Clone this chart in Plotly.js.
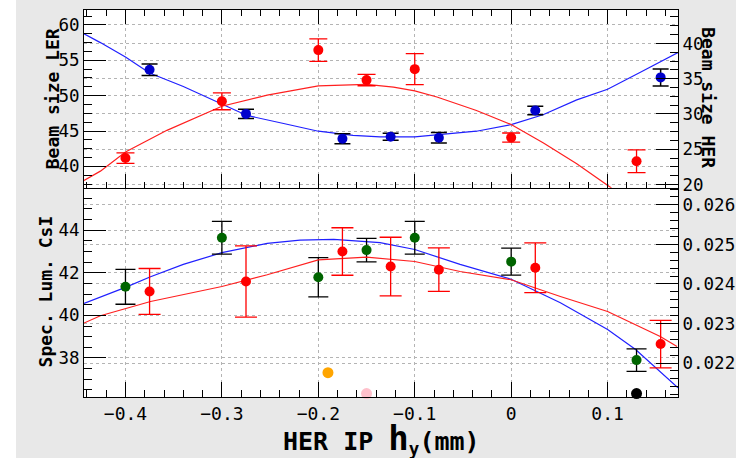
<!DOCTYPE html>
<html>
<head>
<meta charset="utf-8">
<script src="https://cdn.plot.ly/plotly-3.0.1.min.js"></script>
<style>
html,body{margin:0;padding:0;background:#ffffff;}
#plot{position:absolute;left:16px;top:0;width:720px;height:458px;}
</style>
</head>
<body>
<div id="plot"></div>
<script>
// ---- Top panel: beam sizes ----
const xLER = [-0.375, -0.275, -0.175, -0.125, -0.075, 0.025, 0.155];
const ler = [53.66, 47.42, 43.90, 44.18, 44.04, 47.90, 52.58];
const lerErr = [0.8, 0.66, 0.7, 0.5, 0.75, 0.6, 1.2];

const xHER = [-0.4, -0.3, -0.2, -0.15, -0.1, 0, 0.13];
const her = [23.75, 31.8, 39.05, 34.8, 36.35, 26.65, 23.3];
const herErr = [0.75, 1.2, 1.6, 0.8, 2.2, 0.65, 1.6];

const fitLERx = [-0.443, -0.426, -0.4, -0.375, -0.34, -0.3, -0.274, -0.236, -0.2, -0.164, -0.136, -0.1, -0.075, -0.036, 0, 0.033, 0.068, 0.1, 0.134, 0.173];
const fitLER = [58.73, 57.5, 55.45, 53.2, 51.3, 48.87, 47.2, 46.06, 44.97, 44.37, 44.18, 44.18, 44.5, 44.97, 45.9, 47.3, 49.4, 50.9, 53.3, 56.1];

const fitHERx = [-0.443, -0.426, -0.4, -0.357, -0.3, -0.253, -0.2, -0.15, -0.122, -0.1, -0.077, -0.036, 0, 0.0335, 0.068, 0.104];
const fitHER = [20.58, 21.9, 24.6, 27.68, 31.1, 32.66, 33.98, 34.2, 33.8, 33.27, 32.4, 30.5, 28.5, 25.9, 22.95, 19.5];

// ---- Bottom panel: specific luminosity ----
const xGreen = [-0.4, -0.3, -0.2, -0.15, -0.1, 0, 0.13];
const green = [41.34, 43.64, 41.79, 43.06, 43.64, 42.52, 37.90];
const greenErr = [0.82, 0.77, 0.92, 0.55, 0.77, 0.63, 0.53];

const xRed = [-0.375, -0.275, -0.175, -0.125, -0.075, 0.025, 0.155];
const red = [0.02381, 0.02406, 0.02482, 0.02444, 0.02436, 0.02441, 0.02248];
const redErr = [0.00058, 0.0009, 0.0006, 0.00074, 0.00055, 0.00063, 0.0006];

const fitBlueX = [-0.443, -0.4, -0.374, -0.34, -0.3, -0.253, -0.219, -0.184, -0.136, -0.1, -0.053, 0, 0.051, 0.1, 0.129, 0.155, 0.173];
const fitBlue = [40.56, 41.31, 41.81, 42.39, 42.94, 43.38, 43.53, 43.56, 43.41, 43.09, 42.39, 41.69, 40.59, 39.34, 38.4, 37.34, 36.6];

const fitRedX = [-0.443, -0.426, -0.374, -0.3, -0.253, -0.2, -0.15, -0.1, -0.053, 0, 0.051, 0.1, 0.1546, 0.172];
const fitRed = [0.023011, 0.023195, 0.023556, 0.023935, 0.024231, 0.02461, 0.024678, 0.024567, 0.024314, 0.024105, 0.023683, 0.023304, 0.022672, 0.02242];

const extraX = [-0.19, -0.15, 0.13];
const extraY = [37.31, 36.33, 36.33];
const extraColors = ['#ffa500', '#ffc0cb', '#000000'];

const mono = 'DejaVu Sans Mono, monospace';
const gridCol = '#b4b4b4';

const traces = [
  {x: fitLERx, y: fitLER, xaxis: 'x2', yaxis: 'y3', mode: 'lines', line: {color: '#2020ff', width: 1.2}, hoverinfo: 'skip'},
  {x: fitHERx, y: fitHER, xaxis: 'x2', yaxis: 'y4', mode: 'lines', line: {color: '#ff2020', width: 1.2}, hoverinfo: 'skip'},
  {x: xLER, y: ler, xaxis: 'x2', yaxis: 'y3', mode: 'markers',
   marker: {color: '#0000cc', size: 10},
   error_y: {type: 'data', array: lerErr, visible: true, color: '#000000', thickness: 1.5, width: 8}},
  {x: xHER, y: her, xaxis: 'x2', yaxis: 'y4', mode: 'markers',
   marker: {color: '#ff0000', size: 10},
   error_y: {type: 'data', array: herErr, visible: true, color: '#ff0000', thickness: 1.3, width: 9}},

  {x: fitBlueX, y: fitBlue, xaxis: 'x', yaxis: 'y', mode: 'lines', line: {color: '#2020ff', width: 1.2}, hoverinfo: 'skip'},
  {x: fitRedX, y: fitRed, xaxis: 'x', yaxis: 'y2', mode: 'lines', line: {color: '#ff2020', width: 1.2}, hoverinfo: 'skip'},
  {x: xGreen, y: green, xaxis: 'x', yaxis: 'y', mode: 'markers',
   marker: {color: '#006400', size: 10},
   error_y: {type: 'data', array: greenErr, visible: true, color: '#000000', thickness: 1.3, width: 10}},
  {x: xRed, y: red, xaxis: 'x', yaxis: 'y2', mode: 'markers',
   marker: {color: '#ff0000', size: 10},
   error_y: {type: 'data', array: redErr, visible: true, color: '#ff0000', thickness: 1.3, width: 11}},
  {x: extraX, y: extraY, xaxis: 'x', yaxis: 'y', mode: 'markers', cliponaxis: false,
   marker: {color: extraColors, size: 11}}
];

const yCommon = {
  ticks: 'inside', ticklen: 22, tickwidth: 1, tickcolor: '#000',
  showline: true, linecolor: '#000', linewidth: 1,
  showgrid: true, gridcolor: gridCol, griddash: 'dot', gridwidth: 1,
  zeroline: false, tickfont: {family: mono, size: 17.5, color: '#000'}
};

const layout = {
  width: 720, height: 458,
  margin: {l: 67.5, r: 58.3, t: 10, b: 60.7},
  paper_bgcolor: '#e8e8e8', plot_bgcolor: '#ffffff',
  showlegend: false,
  xaxis: {
    domain: [0, 1], anchor: 'y', range: [-0.443, 0.173], dtick: 0.1, tick0: 0,
    ticks: 'inside', ticklen: 15, tickwidth: 1, tickcolor: '#000',
    minor: {dtick: 0.02, tick0: 0, ticks: 'inside', ticklen: 7, tickcolor: '#000', showgrid: false},
    showline: true, linecolor: '#000', linewidth: 1, mirror: false,
    showgrid: true, gridcolor: gridCol, griddash: 'dot', zeroline: false,
    tickfont: {family: mono, size: 18, color: '#000'}
  },
  xaxis2: {
    domain: [0, 1], anchor: 'y3', matches: 'x', range: [-0.443, 0.173], dtick: 0.1, tick0: 0,
    ticks: 'inside', ticklen: 14, tickwidth: 1, tickcolor: '#000', showticklabels: false,
    minor: {dtick: 0.02, tick0: 0, ticks: 'inside', ticklen: 6, tickcolor: '#000', showgrid: false},
    showline: true, linecolor: '#000', linewidth: 1, mirror: 'ticks',
    showgrid: true, gridcolor: gridCol, griddash: 'dot', zeroline: false
  },
  yaxis: Object.assign({}, yCommon, {
    domain: [0, 0.5404], anchor: 'x', range: [36.17, 45.98], dtick: 2, tick0: 0,
    minor: {dtick: 0.5, tick0: 0, ticks: 'inside', ticklen: 8, tickcolor: '#000', showgrid: false}
  }),
  yaxis2: Object.assign({}, yCommon, {
    overlaying: 'y', side: 'right', anchor: 'x', range: [0.021141, 0.026429], dtick: 0.001, tick0: 0,
    tickformat: '.3f',
    minor: {dtick: 0.0002, tick0: 0, ticks: 'inside', ticklen: 8, tickcolor: '#000', showgrid: false}
  }),
  yaxis3: Object.assign({}, yCommon, {
    domain: [0.5404, 1], anchor: 'x2', range: [36.96, 62.11], dtick: 5, tick0: 0,
    minor: {dtick: 1.25, tick0: 0, ticks: 'inside', ticklen: 8, tickcolor: '#000', showgrid: false}
  }),
  yaxis4: Object.assign({}, yCommon, {
    overlaying: 'y3', side: 'right', anchor: 'x2', range: [19.53, 44.73], dtick: 5, tick0: 0,
    minor: {dtick: 1.25, tick0: 0, ticks: 'inside', ticklen: 8, tickcolor: '#000', showgrid: false}
  }),
  annotations: [
    {text: 'Beam size LER', xref: 'paper', yref: 'paper', x: -0.0535, y: 0.770, textangle: -90,
     showarrow: false, xanchor: 'center', yanchor: 'middle',
     font: {family: mono, size: 18, weight: 'bold', color: '#000'}},
    {text: 'Beam size HER', xref: 'paper', yref: 'paper', x: 1.052, y: 0.7725, textangle: 90,
     showarrow: false, xanchor: 'center', yanchor: 'middle',
     font: {family: mono, size: 18, weight: 'bold', color: '#000'}},
    {text: 'Spec. Lum. CsI', xref: 'paper', yref: 'paper', x: -0.0645, y: 0.272, textangle: -90,
     showarrow: false, xanchor: 'center', yanchor: 'middle',
     font: {family: mono, size: 18, weight: 'bold', color: '#000'}},
    {text: 'HER IP <span style="font-size:34px">h</span><sub>y</sub>(mm)', xref: 'paper', yref: 'paper',
     x: 0.5005, y: -0.108, showarrow: false, xanchor: 'center', yanchor: 'middle',
     font: {family: mono, size: 25, weight: 'bold', color: '#000'}}
  ]
};

Plotly.newPlot('plot', traces, layout, {staticPlot: true, displayModeBar: false});
</script>
</body>
</html>
